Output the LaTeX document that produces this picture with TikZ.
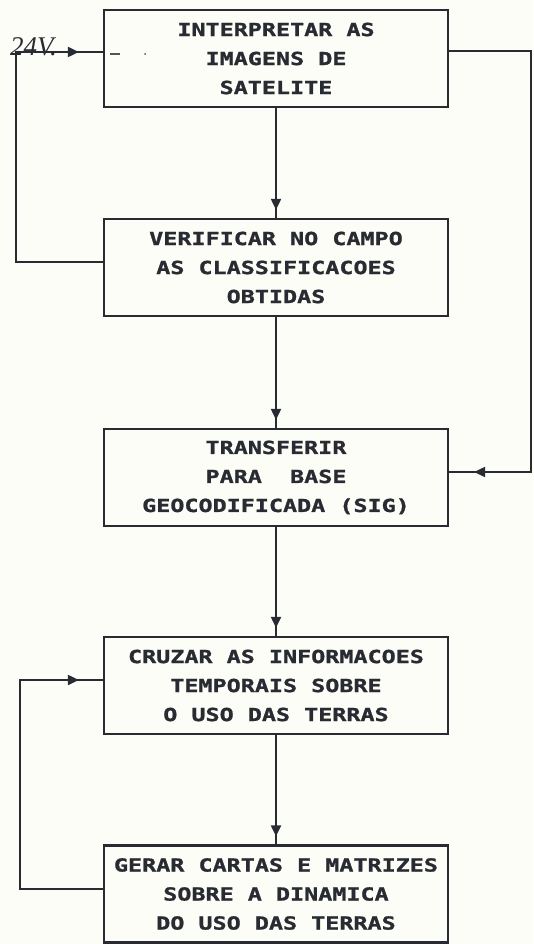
\documentclass[tikz,border=0pt]{standalone}
\usepackage{fontspec}
\newfontfamily\dosfont[FakeStretch=1.3,FakeBold=1.2]{DejaVu Sans Mono}
\newfontfamily\handfont{Liberation Serif}
\usetikzlibrary{arrows.meta,decorations.markings}
\definecolor{ink}{RGB}{40,43,50}
\definecolor{paper}{RGB}{253,253,247}
\tikzset{
  box/.style={draw=ink, line width=2.2pt, minimum width=344pt, minimum height=97pt,
    inner sep=0pt, align=center, text=ink,
    font=\dosfont\bfseries\fontsize{18}{29}\selectfont},
  conn/.style={draw=ink, line width=1.9pt},
  tipat/.style={postaction={decorate}, decoration={markings,
    mark=at position -#1 with {\arrow[ink]{Triangle[length=11pt,width=10pt]}}}}
}
\begin{document}
\begin{tikzpicture}[x=1pt,y=-1pt]
\fill[paper] (0,0) rectangle (533,944);
\useasboundingbox (0,0) rectangle (533,944);

\node[box] (b1) at (276,58.5) {INTERPRETAR AS\\IMAGENS DE\\SATELITE};
\node[box] (b2) at (276,267.5) {VERIFICAR NO CAMPO\\AS CLASSIFICACOES\\OBTIDAS};
\node[box] (b3) at (276,477.5) {TRANSFERIR\\PARA\ \ BASE\\GEOCODIFICADA (SIG)};
\node[box] (b4) at (276,685.5) {CRUZAR AS INFORMACOES\\TEMPORAIS SOBRE\\O USO DAS TERRAS};
\node[box] (b5) at (276,894) {GERAR CARTAS E MATRIZES\\SOBRE A DINAMICA\\DO USO DAS TERRAS};

% vertical flow
\draw[conn,tipat=8pt] (b1) -- (b2);
\draw[conn,tipat=8pt] (b2) -- (b3);
\draw[conn,tipat=8pt] (b3) -- (b4);
\draw[conn,tipat=8pt] (b4) -- (b5);

% loop corners
\coordinate (lt) at (16,52);
\coordinate (lb) at (16,262);
\coordinate (rt) at (531,51);
\coordinate (rb) at (531,472);
\coordinate (bt) at (20,680);
\coordinate (bb) at (20,889);

\draw[conn,tipat=24pt] ([yshift=5.5pt]b2.west) -- (lb) -- (lt) -- ([yshift=6.5pt]b1.west);
\draw[conn,tipat=25pt] ([yshift=7.5pt]b1.east) -- (rt) -- (rb) -- ([yshift=5.5pt]b3.east);
\draw[conn,tipat=24pt] ([yshift=5pt]b5.west) -- (bb) -- (bt) -- ([yshift=5.5pt]b4.west);

% handwritten note and marks
\node[anchor=base west, inner sep=0pt, text=ink, font=\handfont\itshape\fontsize{27}{27}\selectfont] (note) at (10,56) {24V.};
\draw[ink!80, line width=1.4pt] (110,54) -- (120,54);
\fill[ink!80] (145,54) circle (1pt);
\end{tikzpicture}
\end{document}
